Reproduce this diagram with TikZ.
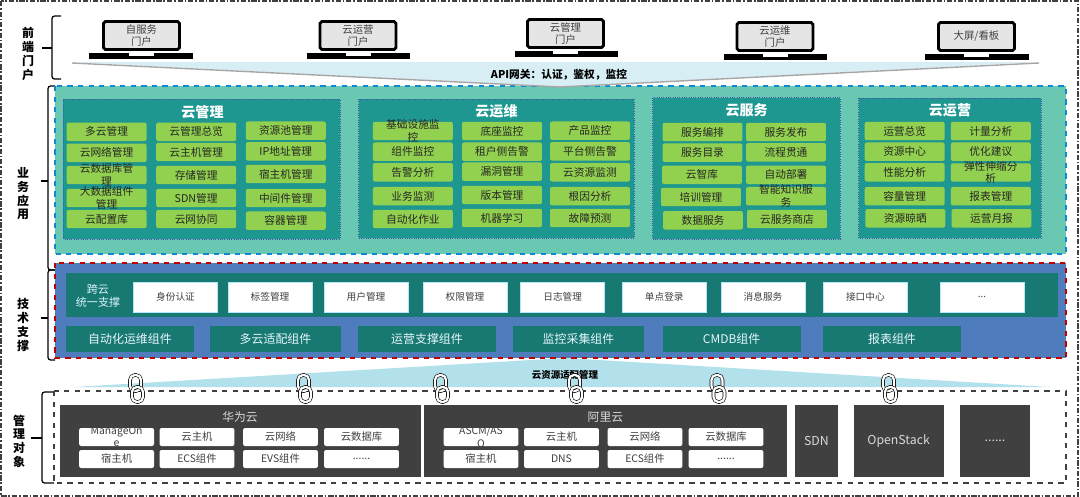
\documentclass[tikz,border=0pt]{standalone}
\usepackage{fontspec}
\setmainfont{Noto Sans CJK SC}
\definecolor{bizbg}{HTML}{68C8B2}
\definecolor{bizteal}{HTML}{1E9790}
\definecolor{leaf}{HTML}{92D14F}
\definecolor{techbg}{HTML}{4E7CBC}
\definecolor{techteal}{HTML}{187872}
\definecolor{slab}{HTML}{404040}
\definecolor{gateway}{HTML}{D8EEF5}
\definecolor{adapter}{HTML}{B2E0EB}
\tikzset{
  bracket/.style={draw=black, line width=.7pt, rounded corners=1.5pt},
  sidelabel/.style={align=center, inner sep=0pt, font=\fontsize{6.8}{7.8}\selectfont\bfseries},
  screen/.style={draw=black, line width=1.6pt, rounded corners=1pt, fill=black!10, text=slab, minimum width=1.52cm, minimum height=.56cm, inner sep=0pt, align=center, font=\fontsize{5.9}{6.9}\selectfont},
  panel/.style={draw=blue!40!gray, line width=.3pt, densely dotted, fill=bizteal},
  paneltitle/.style={text=white, inner sep=0pt, font=\fontsize{8}{9}\selectfont\bfseries},
  greenbox/.style={fill=leaf, rounded corners=1.2pt, minimum width=1.6cm, minimum height=.37cm, inner sep=0pt, text=black!85, font=\fontsize{6.1}{7.2}\selectfont},
  greentext/.style={inner sep=0pt, align=center, text=black!85, font=\fontsize{6.1}{7.2}\selectfont},
  whitebox/.style={fill=white, draw=cyan!30, line width=.4pt, minimum width=1.68cm, minimum height=.6cm, inner sep=0pt, text=slab, font=\fontsize{5.5}{6.5}\selectfont},
  crossteal/.style={fill=techteal, minimum height=.52cm, inner sep=0pt, text=white!90!cyan, font=\fontsize{6.8}{8}\selectfont},
  darkbox/.style={fill=slab, minimum height=1.44cm, inner sep=0pt, text=white!85!black, font=\fontsize{7}{8.4}\selectfont},
  darktitle/.style={inner sep=0pt, text=white!85!black, font=\fontsize{6.7}{8}\selectfont},
  objbox/.style={fill=white, rounded corners=1.2pt, minimum width=1.5cm, minimum height=.36cm, inner sep=0pt, text=slab, font=\fontsize{5.9}{7}\selectfont},
  objtext/.style={inner sep=0pt, align=center, text=slab, font=\fontsize{5.9}{6.9}\selectfont},
  chainlink/.style={draw=black, line width=.35pt, double=white, double distance=1.3pt, rounded corners=2.8pt}
}
\begin{document}
\begin{tikzpicture}[x=.02cm, y=-.02cm]
\useasboundingbox (0,0) rectangle (1080,497);

% cadre
\draw[slab, line width=.6pt, dash pattern=on 3pt off 1pt on 1pt off 1pt] (1,1) rectangle (1078,496);

% accolades
\draw[bracket] (61,16) -- (52,16) -- (52,79) -- (61,79);
\draw[bracket] (52,48) -- (42,48);
\draw[bracket] (55,86) -- (48,86) -- (48,270) -- (55,270);
\draw[bracket] (48,181) -- (41,181);
\draw[bracket] (55,270) -- (48,270) -- (48,360) -- (55,360);
\draw[bracket] (48,318) -- (41,318);
\draw[bracket] (54,392) -- (42,392) -- (42,483) -- (54,483);
\draw[bracket] (42,438) -- (31,438);

\node[sidelabel] (lfront) at (28,54) {前\\端\\门\\户};
\node[sidelabel] (lbiz) at (23,194) {业\\务\\应\\用};
\node[sidelabel] (ltech) at (23,325) {技\\术\\支\\撑};
\node[sidelabel] (lobj) at (19,441) {管\\理\\对\\象};

% portails
\node[screen] (pc1) at (141.5,35.5) {自服务\\门户};
\fill (89,53) rectangle (193,59);
\fill[white] (129,53) rectangle (154,56);
\node[screen] (pc2) at (358,35.5) {云运营\\门户};
\fill (306.5,53) rectangle (410,59);
\fill[white] (346,53) rectangle (371,56);
\node[screen] (pc3) at (565.5,33.5) {云管理\\门户};
\fill (515,51) rectangle (618,57);
\fill[white] (553,51) rectangle (578,54);
\node[screen] (pc4) at (775,36.5) {云运维\\门户};
\fill (723.5,54) rectangle (827,60);
\fill[white] (762.5,54) rectangle (787.5,57);
\node[screen] (pc5) at (976.5,36.5) {大屏/看板};
\fill (925,54) rectangle (1029,60);
\fill[white] (964,54) rectangle (989,57);

% services metier
\draw[cyan!70!blue, line width=.8pt, dashed, fill=bizbg] (55,86) rectangle (1066,254);

% passerelle
\fill[gateway] (72,62) -- (1039,62) -- (560,87) -- cycle;
\draw[black!35, line width=.8pt] (72,63) -- (560,87) -- (1039,63);
\node[inner sep=0pt, font=\fontsize{6.1}{7}\selectfont\bfseries] (api) at (559,75) {API网关：认证，鉴权，监控};

% Gestion
\draw[panel] (63,99) rectangle (340,239);
\node[paneltitle] (t1) at (202.5,112) {云管理};
\node[greenbox] (m11) at (106.6,131.8) {多云管理};
\node[greenbox] (m12) at (106.6,152.8) {云网络管理};
\node[greenbox] (m13) at (106.6,175) {};
\node[greentext] (m13t) at (m13) {云数据库管\\理};
\node[greenbox] (m14) at (106.6,198) {};
\node[greentext] (m14t) at (m14) {大数据组件\\管理};
\node[greenbox] (m15) at (106.6,219) {云配置库};
\node[greenbox] (m21) at (196.2,131.8) {云管理总览};
\node[greenbox] (m22) at (196.2,152) {云主机管理};
\node[greenbox] (m23) at (196.2,175) {存储管理};
\node[greenbox] (m24) at (196.2,198) {SDN管理};
\node[greenbox] (m25) at (196.2,219) {云网协同};
\node[greenbox] (m31) at (285.8,130.7) {资源池管理};
\node[greenbox] (m32) at (285.8,151.3) {IP地址管理};
\node[greenbox] (m33) at (285.8,174) {宿主机管理};
\node[greenbox] (m34) at (285.8,198) {中间件管理};
\node[greenbox] (m35) at (285.8,220.7) {容器管理};

% Exploitation
\draw[panel] (358.5,99) rectangle (634,238);
\node[paneltitle] (t2) at (496.5,111.7) {云运维};
\node[greenbox] (o11) at (412.9,131) {};
\node[greentext] (o11t) at (o11) {基础设施监\\控};
\node[greenbox] (o12) at (412.9,151.7) {组件监控};
\node[greenbox] (o13) at (412.9,172.3) {告警分析};
\node[greenbox] (o14) at (412.9,196.2) {业务监测};
\node[greenbox] (o15) at (412.9,219) {自动化作业};
\node[greenbox] (o21) at (502,131) {底座监控};
\node[greenbox] (o22) at (502,151.7) {租户侧告警};
\node[greenbox] (o23) at (502,171.7) {漏洞管理};
\node[greenbox] (o24) at (502,195) {版本管理};
\node[greenbox] (o25) at (502,218) {机器学习};
\node[greenbox] (o31) at (590,130.7) {产品监控};
\node[greenbox] (o32) at (590,151.3) {平台侧告警};
\node[greenbox] (o33) at (590,172.3) {云资源监测};
\node[greenbox] (o34) at (590,196.2) {根因分析};
\node[greenbox] (o35) at (590,218) {故障预测};

% Service
\draw[panel] (652.6,97.5) rectangle (840,239);
\node[paneltitle] (t3) at (746.6,110) {云服务};
\node[greenbox] (s11) at (702.5,132) {服务编排};
\node[greenbox] (s12) at (702.5,152.7) {服务目录};
\node[greenbox] (s13) at (702,174.8) {云智库};
\node[greenbox] (s14) at (701,197) {培训管理};
\node[greenbox] (s15) at (703,220.3) {数据服务};
\node[greenbox] (s21) at (786,132) {服务发布};
\node[greenbox] (s22) at (786,152.3) {流程贯通};
\node[greenbox] (s23) at (786,174.8) {自动部署};
\node[greenbox] (s24) at (786,196.2) {};
\node[greentext] (s24t) at (s24) {智能知识服\\务};
\node[greenbox] (s25) at (787,219) {云服务商店};

% Operation
\draw[panel] (858.5,98) rectangle (1041,238);
\node[paneltitle] (t4) at (950,110) {云运营};
\node[greenbox] (y11) at (904.7,131) {运营总览};
\node[greenbox] (y12) at (904.7,151.7) {资源中心};
\node[greenbox] (y13) at (904.7,172.3) {性能分析};
\node[greenbox] (y14) at (904.7,196.2) {容量管理};
\node[greenbox] (y15) at (905.4,218.3) {资源晾晒};
\node[greenbox] (y21) at (990.8,131) {计量分析};
\node[greenbox] (y22) at (990.8,151.7) {优化建议};
\node[greenbox] (y23) at (990.8,172.5) {};
\node[greentext] (y23t) at (y23) {弹性伸缩分\\析};
\node[greenbox] (y24) at (990.8,196.2) {报表管理};
\node[greenbox] (y25) at (991.5,218.3) {运营月报};

% adaptation
\fill[adapter] (74,387) -- (565,358) -- (1050,387) -- cycle;
\node[inner sep=0pt, font=\fontsize{5.4}{6.5}\selectfont\bfseries] (adp) at (565,375) {云资源适配管理};

% support technique
\draw[red!75!black, line width=.8pt, dashed, fill=techbg] (55,263) rectangle (1066,358);
\fill[techteal] (66,273) rectangle (1058,317);
\node[inner sep=0pt, align=center, text=white!85!cyan, font=\fontsize{6.3}{7}\selectfont] (kuayun) at (98,296) {跨云\\统一支撑};
\node[whitebox] (w1) at (175.5,297) {身份认证};
\node[whitebox] (w2) at (270,297) {标签管理};
\node[whitebox] (w3) at (366,297) {用户管理};
\node[whitebox] (w4) at (465,297) {权限管理};
\node[whitebox] (w5) at (562.7,297) {日志管理};
\node[whitebox] (w6) at (664.3,297) {单点登录};
\node[whitebox] (w7) at (763,297) {消息服务};
\node[whitebox] (w8) at (865.4,297) {接口中心};
\node[whitebox] (w9) at (982,297) {...};

\node[crossteal, minimum width=2.56cm] (c1) at (130,338.7) {自动化运维组件};
\node[crossteal, minimum width=2.62cm] (c2) at (275.5,338.7) {多云适配组件};
\node[crossteal, minimum width=2.76cm] (c3) at (427,338.7) {运营支撑组件};
\node[crossteal, minimum width=2.62cm] (c4) at (578.5,338.7) {监控采集组件};
\node[crossteal, minimum width=2.76cm] (c5) at (731.6,338.7) {CMDB组件};
\node[crossteal, minimum width=2.76cm] (c6) at (892,338.7) {报表组件};

% objets geres
\draw[slab, line width=.8pt, dashed] (54,391) rectangle (1066,483);
\fill[slab] (60,405) rectangle (421,477);
\fill[slab] (424,405) rectangle (786.6,477);
\node[darktitle] (hw) at (240,417) {华为云};
\node[darktitle] (ali) at (605.4,417) {阿里云};

\node[objbox] (h11) at (116.6,437) {};
\node[objtext] (h11t) at (h11) {ManageOn\\e};
\node[objbox] (h12) at (197,437) {云主机};
\node[objbox] (h13) at (280.5,437) {云网络};
\node[objbox] (h14) at (361.5,437) {云数据库};
\node[objbox] (h21) at (116.6,459) {宿主机};
\node[objbox] (h22) at (197,459) {ECS组件};
\node[objbox] (h23) at (280.5,459) {EVS组件};
\node[objbox] (h24) at (361.5,459) {......};

\node[objbox] (a11) at (481,437) {};
\node[objtext] (a11t) at (a11) {ASCM/AS\\O};
\node[objbox] (a12) at (561.5,437) {云主机};
\node[objbox] (a13) at (645,437) {云网络};
\node[objbox] (a14) at (726,437) {云数据库};
\node[objbox] (a21) at (481,459) {宿主机};
\node[objbox] (a22) at (561.5,459) {DNS};
\node[objbox] (a23) at (645,459) {ECS组件};
\node[objbox] (a24) at (726,459) {......};

\node[darkbox, minimum width=.88cm] (d1) at (816.5,441) {SDN};
\node[darkbox, minimum width=1.8cm] (d2) at (898.6,441) {OpenStack};
\node[darkbox, minimum width=1.4cm] (d3) at (995,441) {......};

% chaines
\draw[chainlink] (130,375) rectangle (141,391);
\draw[chainlink] (132,387) rectangle (143,402);
\draw[chainlink] (298,375) rectangle (309,391);
\draw[chainlink] (300,387) rectangle (311,402);
\draw[chainlink] (435,375) rectangle (446,391);
\draw[chainlink] (437,387) rectangle (448,402);
\draw[chainlink] (569,375) rectangle (580,391);
\draw[chainlink] (571,387) rectangle (582,402);
\draw[chainlink] (711.5,375) rectangle (722.5,391);
\draw[chainlink] (713.5,387) rectangle (724.5,402);
\draw[chainlink] (883,375) rectangle (894,391);
\draw[chainlink] (885,387) rectangle (896,402);

\end{tikzpicture}
\end{document}
